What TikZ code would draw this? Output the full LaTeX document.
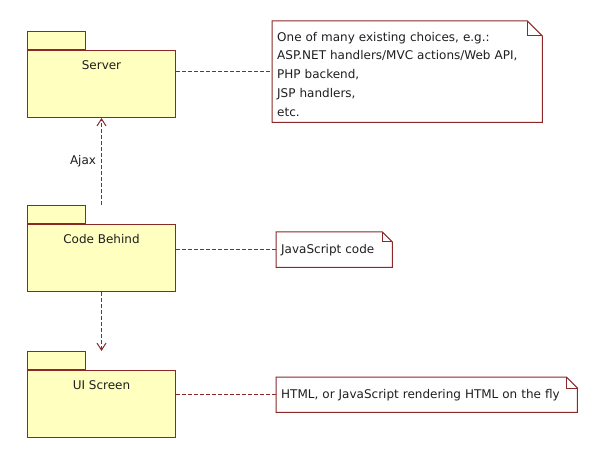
\documentclass[tikz,border=0pt]{standalone}
\usepackage{fontspec}
\setmainfont{DejaVu Sans}
\usetikzlibrary{arrows.meta,calc}
\definecolor{pkgfill}{RGB}{255,255,192}
\definecolor{edge}{RGB}{140,40,40}
\definecolor{txt}{RGB}{30,30,30}
\begin{document}
\begin{tikzpicture}[x=1pt,y=-1pt,
  every node/.style={font=\fontsize{12}{18.7}\selectfont, text=txt},
  pkgbody/.style={draw=edge, fill=pkgfill, line width=1pt, minimum width=148pt, minimum height=67pt, anchor=north west, inner sep=0pt},
  pkgtab/.style={draw=edge, fill=pkgfill, line width=1pt, minimum width=58pt, minimum height=18pt, anchor=south west, inner sep=0pt},
  pkgname/.style={anchor=center, yshift=-15pt, inner sep=0pt},
  notebox/.style={anchor=north west, inner xsep=5pt, inner ysep=0pt, align=left},
  noteline/.style={draw=edge, line width=1pt},
  link/.style={draw=edge, line width=1pt, dash pattern=on 3.5pt off 2.5pt},
  dep/.style={link, -{Straight Barb[length=7pt,width=9pt]}}
]
\useasboundingbox (0,0) rectangle (597,465);

% packages
\node[pkgtab] (servertab) at (27,50) {};
\node[pkgbody, label={[pkgname]north:Server}] (server) at (27,50) {};
\node[pkgtab] (cbtab) at (27,224) {};
\node[pkgbody, label={[pkgname]north:Code Behind}] (cb) at (27,224) {};
\node[pkgtab] (uitab) at (27,370) {};
\node[pkgbody, label={[pkgname]north:UI Screen}] (ui) at (27,370) {};

% notes
\node[notebox, text width=260pt, minimum height=101pt] (n1) at (272,21)
  {\rule{0pt}{14pt}One of many existing choices, e.g.:\\ASP.NET handlers/MVC actions/Web API,\\PHP backend,\\JSP handlers,\\etc.};
\node[notebox, text width=106pt, minimum height=35pt] (n2) at (276,232) {JavaScript code};
\node[notebox, text width=291pt, minimum height=35pt] (n3) at (276,377) {HTML, or JavaScript rendering HTML on the fly};

\foreach \n/\f in {n1/15,n2/10,n3/11}{
  \draw[noteline] (\n.north west) -- ($(\n.north east)+(-\f,0)$) -- ($(\n.north east)+(0,\f)$)
    -- (\n.south east) -- (\n.south west) -- cycle;
  \draw[noteline] ($(\n.north east)+(-\f,0)$) -- ($(\n.north east)+(-\f,\f)$) -- ($(\n.north east)+(0,\f)$);
}

% note links
\draw[link] (server.east |- n1.west) -- (n1.west);
\draw[link] (cb.east |- n2.west) -- (n2.west);
\draw[link] (ui.east |- n3.west) -- (n3.west);

% dependencies
\draw[dep] (server.south |- cbtab.north) -- node[left, inner sep=5pt] (ajax) {Ajax} (server.south);
\draw[dep] (cb.south) -- (cb.south |- uitab.north);
\end{tikzpicture}
\end{document}
